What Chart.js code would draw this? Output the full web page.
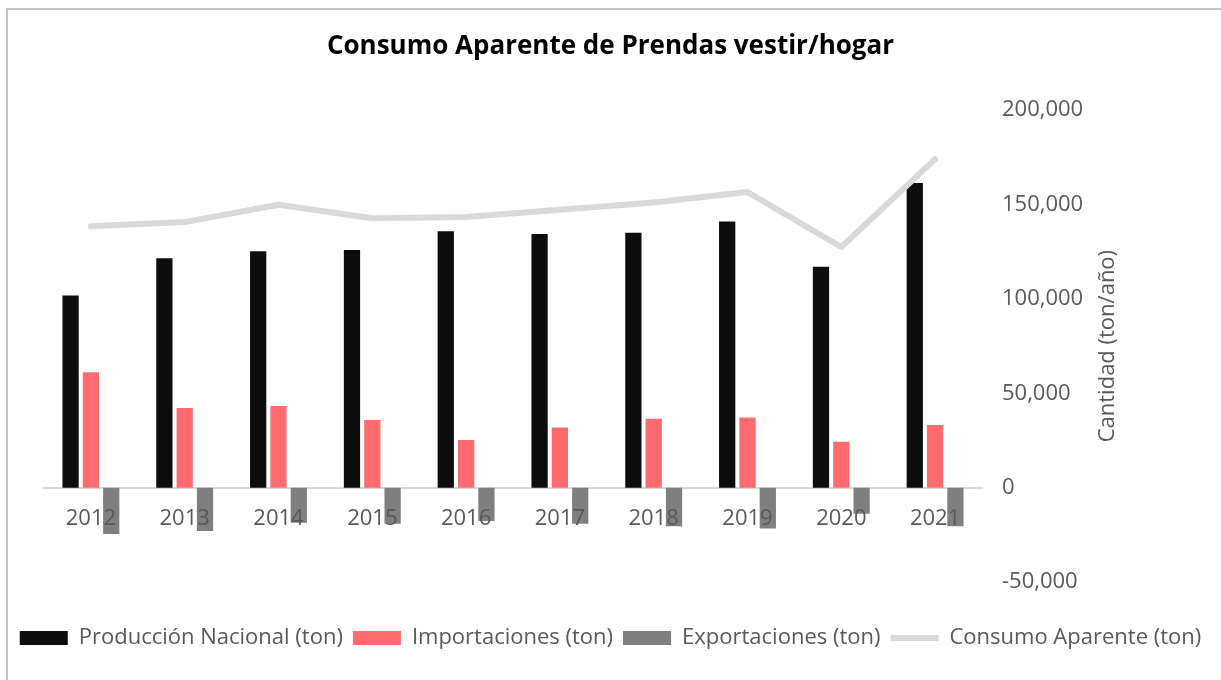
<!DOCTYPE html>
<html lang="es">
<head>
<meta charset="utf-8">
<title>Consumo Aparente de Prendas vestir/hogar</title>
<script src="https://cdn.jsdelivr.net/npm/chart.js@4.4.1/dist/chart.umd.min.js"></script>
<style>
    html, body { margin: 0; padding: 0; background: #fff; overflow: hidden; }
    #frame {
        position: absolute; left: 6px; top: 8px;
        width: 1400px; height: 900px;
        border: 2px solid #c4c4c4;
    }
    #chartBox { position: absolute; left: 0; top: 0; width: 1221px; height: 680px; }
</style>
</head>
<body>
<div id="frame"></div>
<div id="chartBox"><canvas id="consumoChart"></canvas></div>
<script>
// ================= DATA =================
const years = ['2012', '2013', '2014', '2015', '2016', '2017', '2018', '2019', '2020', '2021'];
const produccion = [101800, 121500, 125200, 125900, 135900, 134400, 135100, 141000, 117000, 161400];
const importaciones = [61200, 42200, 43300, 35900, 25200, 31900, 36500, 37200, 24300, 33200];
const exportaciones = [-24500, -23000, -18600, -19100, -17700, -19100, -20500, -21600, -13800, -20500];
const consumo = [138500, 140700, 149900, 142700, 143400, 147200, 151100, 156600, 127500, 174100];
const yTicks = [-50000, 0, 50000, 100000, 150000, 200000];

const FONT = "'Open Sans', 'Liberation Sans', sans-serif";
const TEXT_GREY = '#595959';

// ================= Y AXIS TITLE (reads bottom-to-top) =================
const axisTitlePlugin = {
    id: 'axisTitle',
    afterDraw(chart) {
        const { ctx, chartArea } = chart;
        ctx.save();
        ctx.translate(1108, (chartArea.top + chartArea.bottom) / 2);
        ctx.rotate(-Math.PI / 2);
        ctx.font = `22px ${FONT}`;
        ctx.fillStyle = TEXT_GREY;
        ctx.textAlign = 'center';
        ctx.textBaseline = 'middle';
        ctx.fillText('Cantidad (ton/año)', 0, 0);
        ctx.restore();
    }
};

function buildChart() {
    const ctx = document.getElementById('consumoChart').getContext('2d');
    const barOpts = { categoryPercentage: 0.65, barPercentage: 0.8, order: 1 };

    new Chart(ctx, {
        type: 'bar',
        data: {
            labels: years,
            datasets: [
                { label: 'Producción Nacional (ton)', data: produccion, backgroundColor: '#0d0d0d', ...barOpts },
                { label: 'Importaciones (ton)', data: importaciones, backgroundColor: '#ff6b6e', ...barOpts },
                { label: 'Exportaciones (ton)', data: exportaciones, backgroundColor: '#7f7f7f', ...barOpts },
                {
                    type: 'line',
                    label: 'Consumo Aparente (ton)',
                    data: consumo,
                    borderColor: '#d9d9d9',
                    backgroundColor: '#d9d9d9',
                    borderWidth: 6,
                    borderCapStyle: 'round',
                    borderJoinStyle: 'round',
                    pointRadius: 0,
                    tension: 0,
                    order: 0
                }
            ]
        },
        options: {
            responsive: false,
            animation: false,
            devicePixelRatio: 1,
            layout: { padding: { top: 0, right: 0, bottom: 21, left: 0 } },
            plugins: {
                tooltip: { enabled: false },
                title: {
                    display: true,
                    text: 'Consumo Aparente de Prendas vestir/hogar',
                    color: '#000',
                    font: { family: FONT, size: 26, weight: 'bold', lineHeight: 1.2 },
                    padding: { top: 31, bottom: 48 }
                },
                legend: {
                    position: 'bottom',
                    labels: {
                        color: TEXT_GREY,
                        font: { family: FONT, size: 22 },
                        usePointStyle: true,
                        pointStyleWidth: 48,
                        boxWidth: 48,
                        boxHeight: 14,
                        padding: 10,
                        sort: (a, b) => a.datasetIndex - b.datasetIndex,
                        generateLabels: chart => Chart.defaults.plugins.legend.labels.generateLabels(chart)
                            .map(item => ({ ...item, pointStyle: item.datasetIndex === 3 ? 'line' : 'rect' }))
                    }
                }
            },
            scales: {
                x: {
                    position: { y: 0 },
                    grid: { display: false, drawTicks: false },
                    border: { display: true, color: '#d9d9d9', width: 2 },
                    ticks: { z: 1, color: TEXT_GREY, font: { family: FONT, size: 22 }, padding: 18 }
                },
                xb: {
                    type: 'category',
                    position: 'bottom',
                    grid: { display: false, drawTicks: false },
                    border: { display: false },
                    ticks: { display: false },
                    afterFit: scale => { scale.height = 35; }
                },
                yl: {
                    type: 'linear',
                    position: 'left',
                    grid: { display: false, drawTicks: false },
                    border: { display: false },
                    ticks: { display: false },
                    afterFit: scale => { scale.width = 44; }
                },
                y: {
                    position: 'right',
                    min: -50000,
                    max: 200000,
                    grid: { display: false, drawTicks: false },
                    border: { display: false },
                    afterBuildTicks: scale => { scale.ticks = yTicks.map(v => ({ value: v })); },
                    afterFit: scale => { scale.width = 239; },
                    ticks: {
                        color: TEXT_GREY,
                        font: { family: FONT, size: 22 },
                        padding: 20,
                        callback: v => v.toLocaleString('en-US')
                    }
                }
            }
        },
        plugins: [axisTitlePlugin]
    });
}

document.addEventListener('DOMContentLoaded', () => {
    const canvas = document.getElementById('consumoChart');
    canvas.width = 1221;
    canvas.height = 680;
    buildChart();
});
</script>
</body>
</html>
